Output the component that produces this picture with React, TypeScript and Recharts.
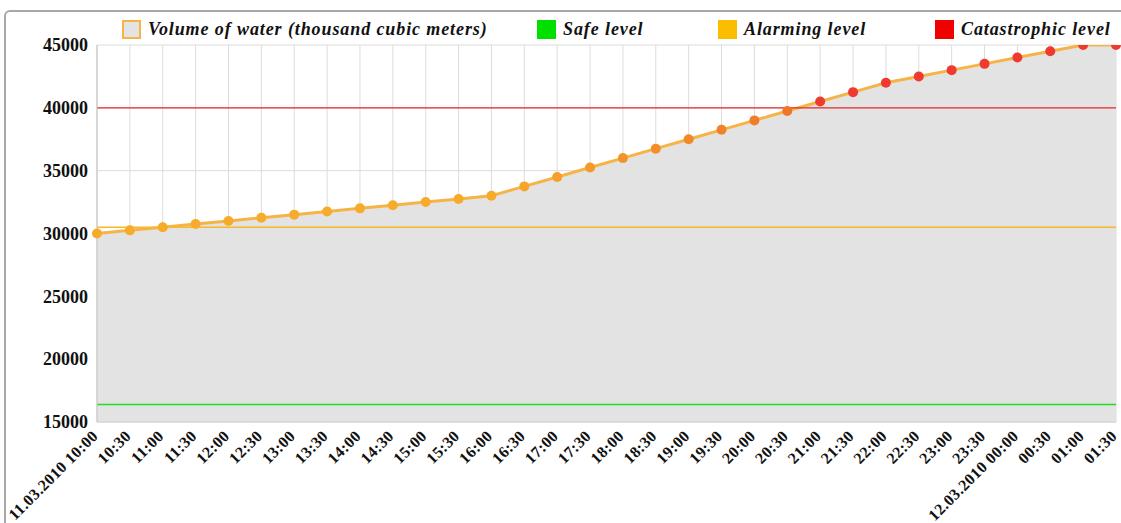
import React from 'react';
import { AreaChart, Area, XAxis, YAxis, CartesianGrid, ReferenceLine } from 'recharts';

const categories = [
  '11.03.2010 10:00', '10:30', '11:00', '11:30', '12:00', '12:30', '13:00', '13:30',
  '14:00', '14:30', '15:00', '15:30', '16:00', '16:30', '17:00', '17:30',
  '18:00', '18:30', '19:00', '19:30', '20:00', '20:30', '21:00', '21:30',
  '22:00', '22:30', '23:00', '23:30', '12.03.2010 00:00', '00:30', '01:00', '01:30',
];
const volume = [
  30000, 30250, 30500, 30750, 31000, 31250, 31500, 31750,
  32000, 32250, 32500, 32750, 33000, 33750, 34500, 35250,
  36000, 36750, 37500, 38250, 39000, 39750, 40500, 41250,
  42000, 42500, 43000, 43500, 44000, 44500, 45000, 45000,
];
const safeLevel = 16400;
const alarmingLevel = 30500;
const catastrophicLevel = 40000;
const yTicks = [15000, 20000, 25000, 30000, 35000, 40000, 45000];

const legendItems = [
  { label: 'Volume of water (thousand cubic meters)', kind: 'area' },
  { label: 'Safe level', kind: 'safe' },
  { label: 'Alarming level', kind: 'alarm' },
  { label: 'Catastrophic level', kind: 'cat' },
];

const data = categories.map((c, i) => ({ time: c, volume: volume[i] }));

const LINE = '#f6b446';
const FILL = '#e3e3e3';
const GREEN = '#1ee01e';
const ORANGE = '#f7b82a';
const RED = '#e8262a';
const FONT = '"Liberation Serif", "Times New Roman", serif';

function dotColor(v: number) {
  if (v > catastrophicLevel) return '#ef3a2f';
  const t = Math.max(0, Math.min(1, (v - 33000) / (39750 - 33000)));
  const a = [246, 172, 42];
  const b = [240, 118, 42];
  const c = a.map((x, k) => Math.round(x + (b[k] - x) * t));
  return `rgb(${c[0]},${c[1]},${c[2]})`;
}

const Dot = (props: any) => {
  const { cx, cy, payload } = props;
  if (cx == null || cy == null) return null;
  return <circle cx={cx} cy={cy} r={5} fill={dotColor(payload.volume)} stroke="none" />;
};

const XTick = (props: any) => {
  const { x, y, payload } = props;
  return (
    <g transform={`translate(${x - 2},${y + 3})`}>
      <text
        x={0}
        y={0}
        dy="0.35em"
        textAnchor="end"
        transform="rotate(-45)"
        fontFamily={FONT}
        fontWeight="bold"
        fontSize={16}
        letterSpacing={0.4}
        fill="#111"
      >
        {payload.value}
      </text>
    </g>
  );
};

const YTick = (props: any) => {
  const { x, y, payload } = props;
  return (
    <text
      x={x}
      y={y}
      dy="0.35em"
      textAnchor="end"
      fontFamily={FONT}
      fontWeight="bold"
      fontSize={18}
      fill="#111"
    >
      {payload.value}
    </text>
  );
};

const legendLeft = [122, 537, 718, 935];

function LegendBox() {
  return (
    <div style={{ position: 'absolute', left: 0, top: 0, width: 1121, height: 45 }}>
      {legendItems.map((it, i) => {
        let icon: React.CSSProperties;
        if (it.kind === 'area') icon = { background: FILL, border: `2px solid ${LINE}`, boxSizing: 'border-box' };
        else if (it.kind === 'safe') icon = { background: '#00e000' };
        else if (it.kind === 'alarm') icon = { background: '#fbbd00' };
        else icon = { background: '#f00000' };
        return (
          <div
            key={it.label}
            style={{ position: 'absolute', left: legendLeft[i], top: 19, display: 'flex', alignItems: 'center', height: 20 }}
          >
            <div style={{ width: 19, height: 19, ...icon }} />
            <span
              style={{
                marginLeft: 7,
                fontFamily: FONT,
                fontStyle: 'italic',
                fontWeight: 'bold',
                fontSize: 18,
                letterSpacing: 0.9,
                color: '#111',
                whiteSpace: 'nowrap',
                lineHeight: '20px',
              }}
            >
              {it.label}
            </span>
          </div>
        );
      })}
    </div>
  );
}

export default function App() {
  return (
    <div style={{ position: 'absolute', left: 0, top: 0, width: 1121, height: 523, overflow: 'hidden', background: '#fff' }}>
      <div
        style={{
          position: 'absolute',
          left: 4,
          top: 10,
          width: 1140,
          height: 540,
          border: '2px solid #a8a8a8',
          borderRadius: 6,
          boxSizing: 'border-box',
        }}
      />
      <div style={{ position: 'absolute', left: 0, top: 0 }}>
        <AreaChart width={1121} height={523} data={data} margin={{ top: 45, right: 5, left: 0, bottom: 0 }}>
          <CartesianGrid stroke="#dcdcdc" strokeWidth={1} />
          <XAxis
            dataKey="time"
            interval={0}
            height={101}
            tick={<XTick />}
            tickLine={false}
            axisLine={{ stroke: '#d0d0d0' }}
          />
          <YAxis
            width={97}
            domain={[15000, 45000]}
            ticks={yTicks}
            tick={<YTick />}
            tickLine={false}
            tickMargin={3}
            axisLine={{ stroke: '#c8c8c8' }}
            allowDataOverflow
          />
          <Area
            type="linear"
            dataKey="volume"
            stroke={LINE}
            strokeWidth={3}
            fill={FILL}
            fillOpacity={1}
            dot={<Dot />}
            activeDot={false}
            isAnimationActive={false}
          />
          <ReferenceLine y={safeLevel} stroke={GREEN} strokeWidth={1.5} />
          <ReferenceLine y={alarmingLevel} stroke={ORANGE} strokeWidth={1.5} />
          <ReferenceLine y={catastrophicLevel} stroke={RED} strokeWidth={1.2} />
        </AreaChart>
      </div>
      <LegendBox />
    </div>
  );
}
